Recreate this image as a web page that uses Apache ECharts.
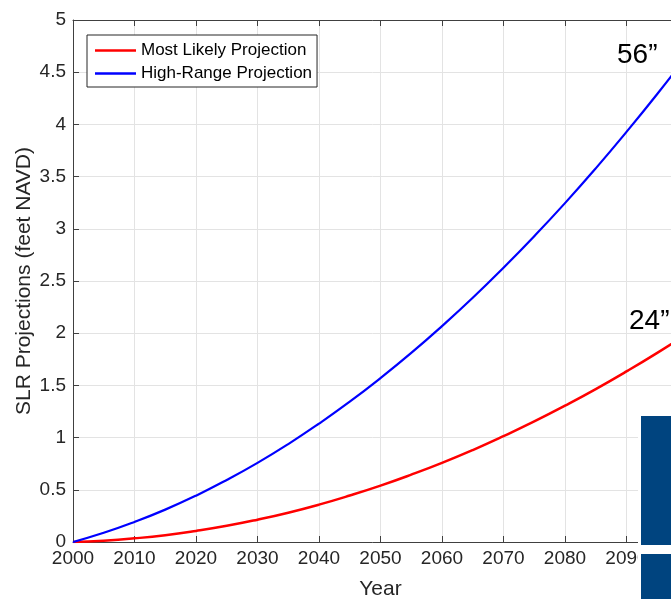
<!DOCTYPE html>
<html>
<head>
<meta charset="utf-8">
<script src="https://cdn.jsdelivr.net/npm/echarts@6/dist/echarts.min.js"></script>
<style>html,body{margin:0;padding:0;background:#fff;}#c{width:671px;height:599px;}</style>
</head>
<body>
<div id="c"></div>
<script>
// Data
var years = [2000,2005,2010,2015,2020,2025,2030,2035,2040,2045,2050,2055,2060,2065,2070,2075,2080,2085,2090,2095,2100];
var mostLikely = [0,0.013,0.035,0.065,0.106,0.155,0.214,0.281,0.358,0.445,0.54,0.645,0.758,0.881,1.014,1.155,1.306,1.465,1.634,1.812,2.0];
var highRange  = [0,0.088,0.192,0.31,0.444,0.594,0.758,0.938,1.134,1.344,1.57,1.811,2.068,2.339,2.627,2.929,3.246,3.579,3.928,4.291,4.67];
var seriesNames = ['Most Likely Projection','High-Range Projection'];
var annotations = ['56\u201D','24\u201D'];

var FONT = '"Liberation Sans", Arial, Helvetica, sans-serif';
function pairs(vals){ return years.map(function(y,i){ return [y, vals[i]]; }); }

var chart = echarts.init(document.getElementById('c'), null, {renderer:'canvas'});
var axisColor = '#404040';
var option = {
  backgroundColor: '#ffffff',
  animation: false,
  grid: { left: 73, top: 20, width: 615, height: 522, containLabel: false, outerBoundsMode: 'none' },
  legend: {
    orient: 'vertical', left: 87, top: 35,
    data: seriesNames,
    icon: 'rect',
    backgroundColor: '#ffffff',
    borderColor: '#262626', borderWidth: 1, borderRadius: 0,
    padding: [7, 5, 5, 8],
    itemWidth: 41, itemHeight: 2.5, itemGap: 6,
    textStyle: { fontFamily: FONT, fontSize: 17, color: '#000', lineHeight: 17 }
  },
  xAxis: [{
    type: 'value', min: 2000, max: 2100, interval: 10,
    name: 'Year', nameLocation: 'middle', nameGap: 37, nameMoveOverlap: false,
    nameTextStyle: { fontFamily: FONT, fontSize: 21, color: '#262626' },
    axisLine: { show: true, lineStyle: { color: axisColor, width: 1 } },
    axisTick: { show: true, inside: true, length: 6, lineStyle: { color: axisColor } },
    axisLabel: { fontFamily: FONT, fontSize: 19, color: '#262626', margin: 7, showMaxLabel: true,
                 formatter: function(v){ return String(v); } },
    splitLine: { show: true, lineStyle: { color: '#e3e3e3', width: 1 } }
  },{
    type: 'value', position: 'top', min: 2000, max: 2100, interval: 10,
    axisLine: { show: true, onZero: false, lineStyle: { color: axisColor, width: 1 } },
    axisTick: { show: true, inside: true, length: 6, lineStyle: { color: axisColor } },
    axisLabel: { show: false },
    splitLine: { show: false }
  }],
  yAxis: {
    type: 'value', min: 0, max: 5, interval: 0.5,
    name: 'SLR Projections (feet NAVD)', nameLocation: 'middle', nameGap: 38, nameMoveOverlap: false,
    nameTextStyle: { fontFamily: FONT, fontSize: 21, color: '#262626' },
    axisLine: { show: true, lineStyle: { color: axisColor, width: 1 } },
    axisTick: { show: true, inside: true, length: 6, lineStyle: { color: axisColor } },
    axisLabel: { fontFamily: FONT, fontSize: 19, color: '#262626', margin: 7 },
    splitLine: { show: true, lineStyle: { color: '#e3e3e3', width: 1 } }
  },
  series: [{
    name: seriesNames[0], type: 'line', data: pairs(mostLikely), smooth: true,
    symbol: 'none', lineStyle: { color: '#ff0000', width: 2.5 }, itemStyle: { color: '#ff0000' }, z: 3
  },{
    name: seriesNames[1], type: 'line', data: pairs(highRange), smooth: true,
    symbol: 'none', lineStyle: { color: '#0000ff', width: 2.2 }, itemStyle: { color: '#0000ff' }, z: 3
  }],
  graphic: [
    { type: 'text', left: 617, top: 41, z: 10,
      style: { text: annotations[0], font: '28px ' + FONT, fill: '#000' } },
    { type: 'text', left: 629, top: 307, z: 10,
      style: { text: annotations[1], font: '28px ' + FONT, fill: '#000' } },
    { type: 'rect', shape: { x: 638, y: 412, width: 40, height: 190 }, style: { fill: '#ffffff' }, z: 20 },
    { type: 'rect', shape: { x: 641, y: 416, width: 35, height: 129 }, style: { fill: '#00447f' }, z: 21 },
    { type: 'rect', shape: { x: 641, y: 554, width: 35, height: 50 }, style: { fill: '#00447f' }, z: 21 }
  ]
};
chart.setOption(option);
</script>
</body>
</html>
